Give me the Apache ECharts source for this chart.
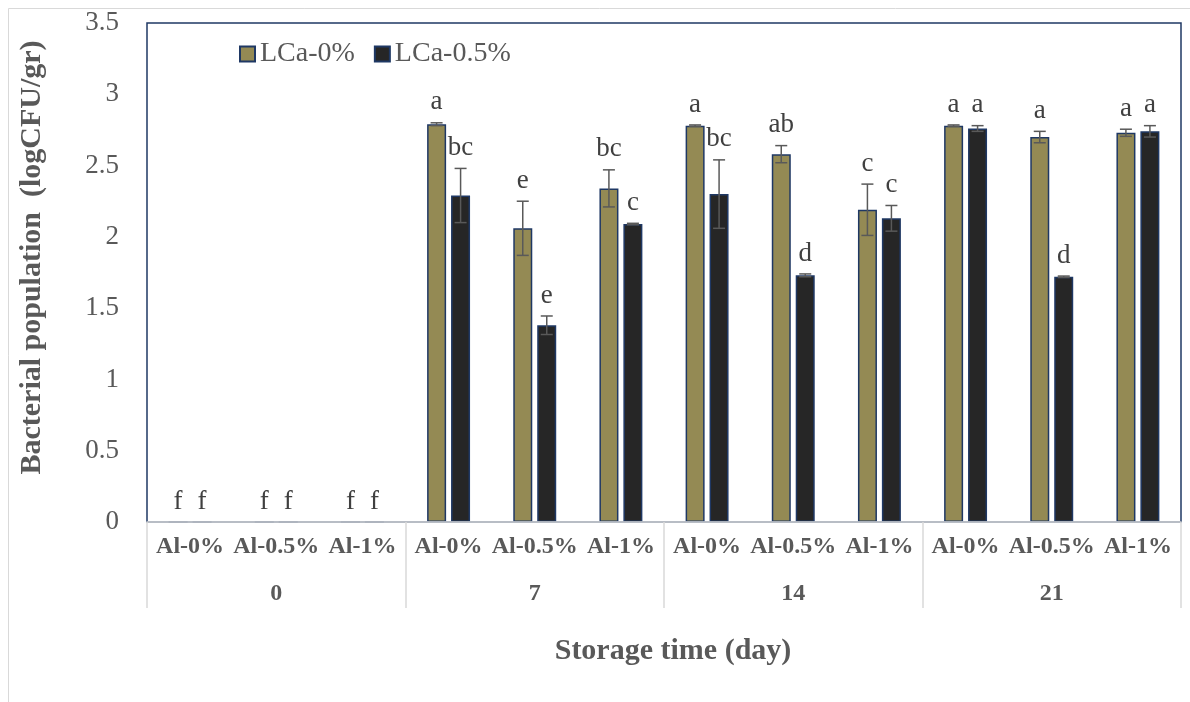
<!DOCTYPE html>
<html>
<head>
<meta charset="utf-8">
<script src="https://cdn.jsdelivr.net/npm/echarts@6/dist/echarts.min.js"></script>
<style>
html,body{margin:0;padding:0;background:#fff;}
#chart{width:1190px;height:702px;}
</style>
</head>
<body>
<div id="chart"></div>
<script>
const categories = ['Al-0%','Al-0.5%','Al-1%','Al-0%','Al-0.5%','Al-1%','Al-0%','Al-0.5%','Al-1%','Al-0%','Al-0.5%','Al-1%'];
const days = ['0','7','14','21'];
const seriesNames = ['LCa-0%','LCa-0.5%'];
const lca0 = [0,0,0, 2.79,2.06,2.34, 2.78,2.58,2.19, 2.78,2.70,2.73];
const lca0Err = [0,0,0, 0.01,0.19,0.13, 0.005,0.06,0.18, 0.005,0.04,0.025];
const lca0Letters = ['f','f','f','a','e','bc','a','ab','c','a','a','a'];
const lca05 = [0,0,0, 2.29,1.38,2.09, 2.30,1.73,2.13, 2.76,1.72,2.74];
const lca05Err = [0,0,0, 0.19,0.065,0.005, 0.24,0.01,0.09, 0.02,0.005,0.04];
const lca05Letters = ['f','f','f','bc','e','c','bc','d','c','a','d','a'];
const yTicks = {min:0, max:3.5, interval:0.5};

const SERIF = '"Liberation Serif","Times New Roman",serif';
const TXT = '#595959';
const BORDER = '#1F3864';

function errSeries(name, values, errs, letters, side) {
  return {
    type: 'custom',
    name: name + '-err',
    xAxisIndex: 0,
    z: 5,
    silent: true,
    encode: {x: 0, y: 1},
    data: values.map((v, i) => [i, v, errs[i]]),
    renderItem: function (params, api) {
      const c = api.value(0), v = api.value(1), e = api.value(2);
      const x = api.coord([c, v])[0] + side * 12;
      const yTop = api.coord([c, v + e])[1];
      const yBot = api.coord([c, Math.max(0, v - e)])[1];
      const children = [];
      if (e > 0) {
        const ls = {stroke: '#595959', lineWidth: 1.5};
        children.push({type: 'line', shape: {x1: x, y1: yTop, x2: x, y2: yBot}, style: ls});
        children.push({type: 'line', shape: {x1: x - 6, y1: yTop, x2: x + 6, y2: yTop}, style: ls});
        children.push({type: 'line', shape: {x1: x - 6, y1: yBot, x2: x + 6, y2: yBot}, style: ls});
      }
      children.push({
        type: 'text',
        x: x, y: yTop - 7,
        style: {
          text: letters[params.dataIndex],
          textAlign: 'center', textVerticalAlign: 'bottom',
          font: '27px ' + SERIF, fill: '#404040'
        }
      });
      return {type: 'group', children: children};
    }
  };
}

const chart = echarts.init(document.getElementById('chart'));
chart.setOption({
  animation: false,
  backgroundColor: '#fff',
  graphic: [{
    type: 'rect', left: 6, top: 6, silent: true,
    shape: {width: 1200, height: 720},
    style: {fill: 'none', stroke: '#d9d9d9', lineWidth: 1}
  }],
  grid: {
    left: 147, top: 23, right: 9, bottom: 180,
    show: true, borderColor: BORDER, borderWidth: 1.5, backgroundColor: 'transparent'
  },
  legend: {
    left: 234, top: 35,
    itemWidth: 15, itemHeight: 15, itemGap: 19,
    icon: 'rect',
    data: seriesNames,
    textStyle: {fontFamily: SERIF, fontSize: 28, color: TXT}
  },
  xAxis: [{
    type: 'category',
    data: categories,
    z: 4,
    axisLine: {show: true, lineStyle: {color: '#d9d9d9', width: 1.5}},
    axisTick: {show: false},
    axisLabel: {
      interval: 0, margin: 13,
      fontFamily: SERIF, fontSize: 24, fontWeight: 'bold', color: TXT
    },
    name: 'Storage time (day)',
    nameLocation: 'middle',
    nameGap: 114,
    nameTextStyle: {fontFamily: SERIF, fontSize: 30, fontWeight: 'bold', color: TXT, padding: [0,0,0,18]}
  }, {
    type: 'category',
    data: days,
    position: 'bottom',
    offset: 0,
    axisLine: {show: false},
    axisTick: {show: true, length: 86, inside: false, lineStyle: {color: '#d9d9d9', width: 1.5}},
    axisLabel: {
      interval: 0, margin: 60,
      fontFamily: SERIF, fontSize: 24, fontWeight: 'bold', color: TXT
    }
  }],
  yAxis: {
    type: 'value',
    min: yTicks.min, max: yTicks.max, interval: yTicks.interval,
    axisLine: {show: false},
    axisTick: {show: false},
    splitLine: {show: false},
    axisLabel: {margin: 28, fontFamily: SERIF, fontSize: 27, color: TXT},
    name: 'Bacterial population  (logCFU/gr)',
    nameLocation: 'middle',
    nameGap: 100,
    nameTextStyle: {fontFamily: SERIF, fontSize: 30, fontWeight: 'bold', color: TXT, padding: [0,0,0,30]}
  },
  series: [{
    type: 'bar',
    name: seriesNames[0],
    data: lca0,
    barWidth: 19,
    barGap: '26%',
    itemStyle: {color: '#948A54', borderColor: BORDER, borderWidth: 1.5}
  }, {
    type: 'bar',
    name: seriesNames[1],
    data: lca05,
    barWidth: 19,
    itemStyle: {color: '#262626', borderColor: BORDER, borderWidth: 1.5}
  },
  errSeries(seriesNames[0], lca0, lca0Err, lca0Letters, -1),
  errSeries(seriesNames[1], lca05, lca05Err, lca05Letters, 1)
  ]
});
</script>
</body>
</html>
